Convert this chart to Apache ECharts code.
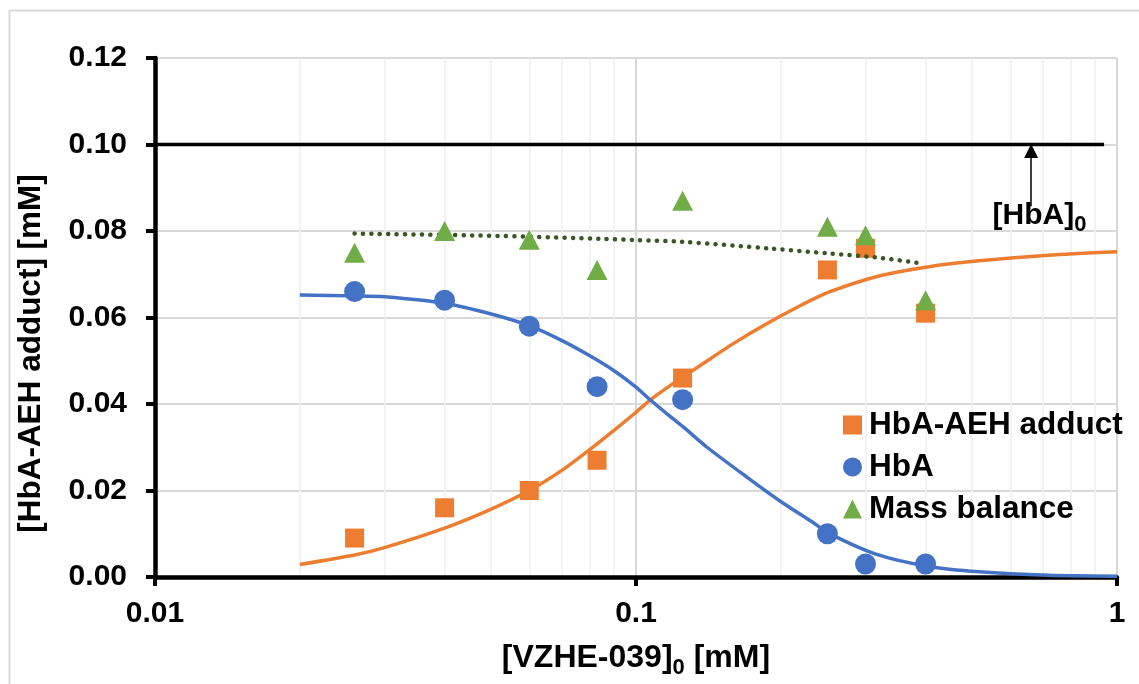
<!DOCTYPE html>
<html>
<head>
<meta charset="utf-8">
<script src="https://cdn.jsdelivr.net/npm/echarts@6/dist/echarts.min.js"></script>
<style>
html,body{margin:0;padding:0;background:#fff;}
#chart{width:1139px;height:684px;}
</style>
</head>
<body>
<div id="chart"></div>
<script>
// measured points
var conc = [0.026, 0.04, 0.06, 0.083, 0.125, 0.25, 0.3, 0.4];
var adduct = [0.009, 0.016, 0.020, 0.027, 0.046, 0.071, 0.076, 0.061];
var hba = [0.066, 0.064, 0.058, 0.044, 0.041, 0.010, 0.003, 0.003];
var massBalance = [0.075, 0.080, 0.078, 0.071, 0.087, 0.081, 0.079, 0.064];

// fitted curves
var adductFitX = [0.02, 0.026, 0.03, 0.04, 0.05, 0.06, 0.07, 0.08, 0.09, 0.1, 0.1067, 0.1155, 0.1254, 0.136, 0.159, 0.1865, 0.2184, 0.2523, 0.32, 0.4038, 0.5172, 0.7198, 1];
var adductFit = [0.0029, 0.0051, 0.0068, 0.0113, 0.0157, 0.0200, 0.0246, 0.0294, 0.0339, 0.0381, 0.0408, 0.0436, 0.0463, 0.0489, 0.0539, 0.0585, 0.0626, 0.0659, 0.0696, 0.0717, 0.0731, 0.0744, 0.0752];
var hbaFitX = [0.02, 0.026, 0.03, 0.04, 0.05, 0.06, 0.07, 0.08, 0.09, 0.1, 0.1067, 0.1155, 0.1254, 0.1405, 0.17, 0.1985, 0.2325, 0.2519, 0.3154, 0.4038, 0.5172, 0.7198, 1];
var hbaFit = [0.0652, 0.0650, 0.0648, 0.0633, 0.0608, 0.0581, 0.0547, 0.0512, 0.0477, 0.0439, 0.0411, 0.0379, 0.0347, 0.0300, 0.0231, 0.0177, 0.0127, 0.0101, 0.0053, 0.0025, 0.0012, 0.0004, 0.0002];

// mass balance trendline
var trendX = [0.026, 0.04, 0.06, 0.0842, 0.1, 0.1248, 0.1922, 0.2523, 0.3154, 0.393];
var trendY = [0.0794, 0.0791, 0.0787, 0.0782, 0.0779, 0.0775, 0.0759, 0.0748, 0.0739, 0.0725];

// [HbA]0 level
var hba0X = [0.01, 0.94];
var hba0Y = [0.1, 0.1];
var arrowX = 0.663;
var arrowFrom = 0.0857;

var xTickLabels = ['0.01', '0.1', '1'];
var minorTicks = [0.02, 0.03, 0.04, 0.05, 0.06, 0.07, 0.08, 0.09, 0.2, 0.3, 0.4, 0.5, 0.6, 0.7, 0.8, 0.9];

var FONT = "'Liberation Sans', Arial, sans-serif";

function pairs(xs, ys){
	var out = [];
	for(var i=0;i<xs.length;i++){
		out.push([xs[i], ys[i]]);
	}
	return out;
}

var myChart = echarts.init(document.getElementById('chart'));

var minorLines = [];
for(var i=0;i<minorTicks.length;i++){
	minorLines.push({xAxis: minorTicks[i]});
}

var option = {
	backgroundColor: '#fff',
	animation: false,
	textStyle: {fontFamily: FONT},
	graphic: [{
		type: 'rect',
		left: 7, top: 8,
		shape: {width: 1200, height: 800},
		style: {fill: 'none', stroke: '#d9d9d9', lineWidth: 2},
		z: -10
	}],
	grid: {left: 155, right: 22, top: 58, bottom: 105},
	legend: {
		orient: 'vertical',
		left: 838,
		top: 402,
		itemWidth: 19,
		itemHeight: 19,
		itemGap: 6,
		textStyle: {fontSize: 31.5, fontWeight: 'bold', color: '#000', fontFamily: FONT, lineHeight: 36, padding: [0, 0, 0, 2]},
		data: [
			{name: 'HbA-AEH adduct', icon: 'rect'},
			{name: 'HbA', icon: 'circle'},
			{name: 'Mass balance', icon: 'triangle'}
		]
	},
	xAxis: {
		type: 'log',
		logBase: 10,
		min: 0.01,
		max: 1,
		name: '{a|[VZHE-039]}{b|0}{a| [mM]}',
		nameLocation: 'middle',
		nameGap: 64,
		nameTextStyle: {
			rich: {
				a: {fontSize: 32, fontWeight: 'bold', color: '#000', fontFamily: FONT, lineHeight: 34},
				b: {fontSize: 22, fontWeight: 'bold', color: '#000', fontFamily: FONT, lineHeight: 24, padding: [20, 0, 0, 0]}
			}
		},
		axisLine: {lineStyle: {color: '#000', width: 4.5}},
		axisTick: {show: true, inside: false, length: 9, lineStyle: {color: '#000', width: 4}},
		axisLabel: {
			margin: 22,
			fontSize: 30,
			fontWeight: 'bold',
			color: '#000',
			fontFamily: FONT,
			formatter: function(value, index){
				return xTickLabels[index];
			}
		},
		splitLine: {show: true, lineStyle: {color: '#d9d9d9', width: 2}}
	},
	yAxis: {
		type: 'value',
		min: 0,
		max: 0.12,
		interval: 0.02,
		name: '[HbA-AEH adduct] [mM]',
		nameLocation: 'middle',
		nameGap: 108,
		nameTextStyle: {fontSize: 31.5, fontWeight: 'bold', color: '#000', fontFamily: FONT, padding: [0, 72, 0, 0]},
		axisLine: {show: true, lineStyle: {color: '#000', width: 4.5}},
		axisTick: {show: true, inside: false, length: 9, lineStyle: {color: '#000', width: 4}},
		axisLabel: {
			margin: 28,
			fontSize: 30,
			fontWeight: 'bold',
			color: '#000',
			fontFamily: FONT,
			formatter: function(value){
				return value.toFixed(2);
			}
		},
		splitLine: {show: true, lineStyle: {color: '#d9d9d9', width: 2}}
	},
	series: [
		{
			name: 'minor',
			type: 'line',
			data: [],
			silent: true,
			z: 0,
			markLine: {
				silent: true,
				z: 0,
				symbol: ['none', 'none'],
				label: {show: false},
				lineStyle: {color: '#efefef', width: 1.5, type: 'solid'},
				data: minorLines,
				animation: false
			}
		},
		{
			name: 'hba0',
			type: 'line',
			data: pairs(hba0X, hba0Y),
			showSymbol: false,
			symbol: 'none',
			silent: true,
			lineStyle: {color: '#000', width: 3.5},
			z: 3,
			markLine: {
				silent: true,
				symbol: ['none', 'triangle'],
				symbolSize: 14,
				label: {show: false},
				lineStyle: {color: '#000', width: 1.5, type: 'solid'},
				data: [[{coord: [arrowX, arrowFrom]}, {coord: [arrowX, 0.0985]}]],
				animation: false
			},
			markPoint: {
				silent: true,
				symbol: 'rect',
				symbolSize: 1,
				itemStyle: {color: 'rgba(0,0,0,0)'},
				label: {
					show: true,
					position: 'inside',
					formatter: '{a|[HbA]}{b|0}',
					rich: {
						a: {fontSize: 30, fontWeight: 'bold', color: '#000', fontFamily: FONT, lineHeight: 34},
						b: {fontSize: 22, fontWeight: 'bold', color: '#000', fontFamily: FONT, lineHeight: 24, padding: [20, 0, 0, 0]}
					}
				},
				data: [{coord: [0.69, 0.0836]}]
			}
		},
		{
			name: 'adductFit',
			type: 'line',
			data: pairs(adductFitX, adductFit),
			smooth: 0.25,
			symbol: 'none',
			silent: true,
			lineStyle: {color: '#ED7D31', width: 3.5},
			z: 2
		},
		{
			name: 'hbaFit',
			type: 'line',
			data: pairs(hbaFitX, hbaFit),
			smooth: 0.25,
			symbol: 'none',
			silent: true,
			lineStyle: {color: '#4472C4', width: 3.5},
			z: 2
		},
		{
			name: 'HbA-AEH adduct',
			type: 'scatter',
			data: pairs(conc, adduct),
			symbol: 'rect',
			symbolSize: 19,
			itemStyle: {color: '#ED7D31', opacity: 1},
			z: 4
		},
		{
			name: 'trend',
			type: 'line',
			data: pairs(trendX, trendY),
			smooth: 0.3,
			symbol: 'none',
			silent: true,
			lineStyle: {color: '#385723', width: 4.5, type: [0.1, 8.3], cap: 'round'},
			z: 5
		},
		{
			name: 'HbA',
			type: 'scatter',
			data: pairs(conc, hba),
			symbol: 'circle',
			symbolSize: 21,
			itemStyle: {color: '#4472C4', opacity: 1},
			z: 4
		},
		{
			name: 'Mass balance',
			type: 'scatter',
			data: pairs(conc, massBalance),
			symbol: 'triangle',
			symbolSize: [21, 20],
			itemStyle: {color: '#70AD47', opacity: 1},
			z: 6
		}
	]
};
myChart.setOption(option);
</script>
</body>
</html>
